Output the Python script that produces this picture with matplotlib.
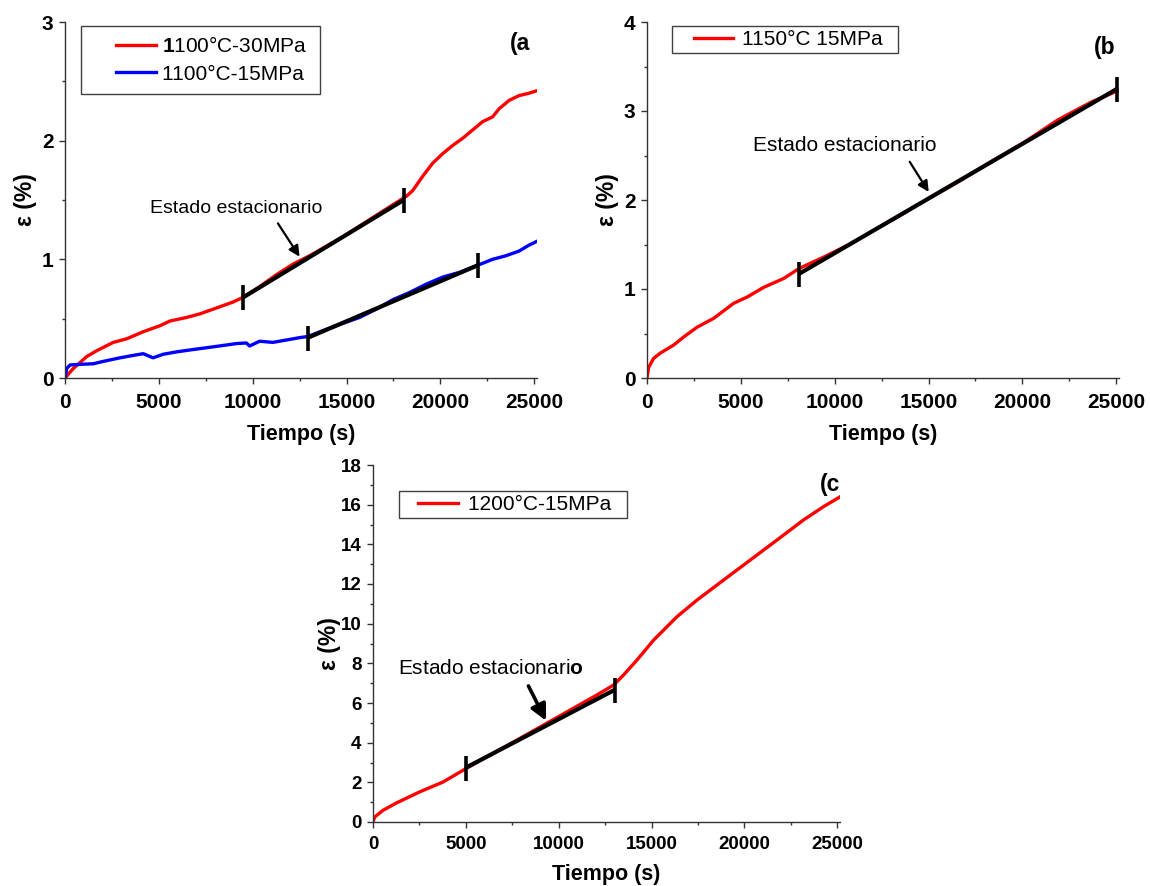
import matplotlib
matplotlib.use('Agg')
import matplotlib.pyplot as plt
from matplotlib.lines import Line2D
from matplotlib.legend_handler import HandlerLine2D
from matplotlib.ticker import MultipleLocator

plt.rcParams['font.family'] = ['Liberation Sans', 'DejaVu Sans']
plt.rcParams['mathtext.fontset'] = 'custom'
plt.rcParams['mathtext.rm'] = 'Liberation Sans'
plt.rcParams['mathtext.bf'] = 'Liberation Sans:bold'

# ---------------- data ----------------
# (a) 1100 C - 30 MPa
a30_t = [0, 440, 800, 1150, 1690, 2570, 3280, 4170, 5050, 5590, 6470, 7180, 8070, 8950, 9490,
         10370, 11260, 12150, 13030, 13920, 14800, 15690, 16580, 17470, 18180, 18530, 19060,
         19590, 20120, 20660, 21190, 21720, 22250, 22780, 23140, 23670, 24200, 24730, 25120]
a30_e = [0, 0.08, 0.13, 0.18, 0.23, 0.30, 0.33, 0.39, 0.44, 0.48, 0.51, 0.54, 0.59, 0.64, 0.68,
         0.77, 0.87, 0.96, 1.03, 1.11, 1.19, 1.28, 1.37, 1.46, 1.53, 1.58, 1.70,
         1.81, 1.89, 1.96, 2.02, 2.09, 2.16, 2.20, 2.27, 2.34, 2.38, 2.40, 2.42]
# (a) 1100 C - 15 MPa
a15_t = [0, 90, 270, 800, 1510, 2040, 2930, 3620, 4170, 4690, 5230, 5940, 6830, 7540, 8240,
         9130, 9660, 9840, 10370, 11080, 11790, 12500, 12940, 13920, 14800, 15690, 16580,
         17470, 18350, 19240, 20120, 21010, 21990, 22780, 23490, 24200, 24730, 25120]
a15_e = [0, 0.08, 0.11, 0.115, 0.12, 0.14, 0.17, 0.19, 0.205, 0.17, 0.20, 0.22, 0.24, 0.255, 0.27,
         0.29, 0.295, 0.27, 0.31, 0.30, 0.32, 0.34, 0.35, 0.41, 0.46, 0.51, 0.58,
         0.66, 0.72, 0.79, 0.85, 0.89, 0.95, 1.00, 1.03, 1.07, 1.12, 1.15]
a30_fit_t = [9500, 18050]
a30_fit_e = [0.68, 1.50]
a15_fit_t = [12950, 22000]
a15_fit_e = [0.34, 0.95]

# (b) 1150 C 15 MPa
b_t = [0, 90, 350, 710, 1420, 1950, 2660, 3550, 4620, 5340, 6230, 7300, 8100, 9430, 10680,
       12100, 13520, 14950, 16550, 18330, 20110, 21890, 23670, 25220]
b_e = [0, 0.12, 0.22, 0.28, 0.37, 0.46, 0.57, 0.67, 0.84, 0.91, 1.02, 1.12, 1.23, 1.36, 1.49,
       1.66, 1.83, 2.01, 2.20, 2.43, 2.65, 2.90, 3.10, 3.24]
b_fit_t = [8100, 25050]
b_fit_e = [1.17, 3.25]

# (c) 1200 C - 15 MPa
c_t = [0, 90, 540, 1260, 2520, 3780, 5000, 6290, 7730, 9170, 10610, 12050, 12950, 13490, 14210,
       15110, 16370, 17450, 18880, 20320, 21760, 23200, 24280, 25180]
c_e = [0, 0.25, 0.59, 0.96, 1.52, 2.02, 2.69, 3.37, 4.12, 4.88, 5.64, 6.40, 6.90, 7.41, 8.16,
       9.17, 10.35, 11.19, 12.20, 13.21, 14.22, 15.24, 15.91, 16.41]
c_fit_t = [5000, 13050]
c_fit_e = [2.74, 6.68]

RED = '#ff0000'
BLUE = '#0000ff'
SPINE = '#333333'

fig = plt.figure(figsize=(11.5, 8.86), dpi=100)
ax_a = fig.add_axes([65/1150, 1-378/886, 472/1150, 356/886])
ax_b = fig.add_axes([647/1150, 1-378/886, 472/1150, 356/886])
ax_c = fig.add_axes([373/1150, 1-822/886, 467/1150, 357/886])


def style(ax, ymax, ymaj, ymin, tsize, xpad, ylab_x, xlab_y):
    ax.set_xlim(0, 25150)
    ax.set_ylim(0, ymax)
    for s in ('top', 'right'):
        ax.spines[s].set_visible(False)
    for s in ('left', 'bottom'):
        ax.spines[s].set_color(SPINE)
        ax.spines[s].set_linewidth(1.0)
    ax.xaxis.set_major_locator(MultipleLocator(5000))
    ax.xaxis.set_minor_locator(MultipleLocator(2500))
    ax.yaxis.set_major_locator(MultipleLocator(ymaj))
    ax.yaxis.set_minor_locator(MultipleLocator(ymin))
    ax.tick_params(which='major', direction='out', length=4.3, width=1.0, color=SPINE,
                   labelsize=tsize)
    ax.tick_params(axis='x', which='major', pad=xpad)
    ax.tick_params(axis='y', which='major', pad=4.0)
    ax.tick_params(which='minor', direction='out', length=2.3, width=1.0, color=SPINE)
    for lab in ax.get_xticklabels() + ax.get_yticklabels():
        lab.set_fontweight('bold')
    ax.set_xlabel('Tiempo (s)', fontsize=15.5, fontweight='bold', va='top')
    ax.set_ylabel('ε (%)', fontsize=16.5, fontweight='bold')
    ax.xaxis.set_label_coords(0.5, xlab_y)
    ax.yaxis.set_label_coords(ylab_x, 0.5)


def fit(ax, t, e):
    ax.plot(t, e, color='k', lw=3, solid_capstyle='butt', zorder=4)
    ax.plot(t, e, ls='none', marker='|', ms=18, mew=2.6, color='k', zorder=5)


def legend(ax, anchor, xpad, hlen, tpad, bpad, lspace=0.25):
    leg = ax.legend(loc='upper left', bbox_to_anchor=anchor, borderaxespad=0,
                    fontsize=15, frameon=True, fancybox=False, framealpha=1,
                    edgecolor='#404040', handlelength=hlen, handletextpad=tpad,
                    borderpad=bpad, labelspacing=lspace,
                    handler_map={Line2D: HandlerLine2D(xpad=xpad)})
    leg.get_frame().set_linewidth(1.0)
    return leg


# ---- (a)
style(ax_a, 3, 1, 0.5, 15, 6.5, -28/472, -46/356)
ax_a.plot(a30_t, a30_e, color=RED, lw=2.4, label=r'$\mathbf{1}$100°C-30MPa ')
ax_a.plot(a15_t, a15_e, color=BLUE, lw=2.4, label='1100°C-15MPa ')
fit(ax_a, a30_fit_t, a30_fit_e)
fit(ax_a, a15_fit_t, a15_fit_e)
ax_a.annotate('', xy=(12500, 1.022), xytext=(11346, 1.303),
              arrowprops=dict(arrowstyle='-|>', color='k', lw=1.6, mutation_scale=16,
                              shrinkA=0, shrinkB=0))
ax_a.text(9100, 1.43, 'Estado estacionario', fontsize=14, ha='center', va='center')
ax_a.text(24260, 2.82, '(a', fontsize=16.5, fontweight='bold', ha='center', va='center')
legend(ax_a, (16/472, 1-4/356), 1.18, 3.1, 0.29, 0.5, lspace=0.4)

# ---- (b)
style(ax_b, 4, 1, 0.5, 15, 6.5, -28/472, -46/356)
ax_b.plot(b_t, b_e, color=RED, lw=2.4, label='1150°C 15MPa  ')
fit(ax_b, b_fit_t, b_fit_e)
ax_b.annotate('', xy=(15010, 2.09), xytext=(13997, 2.43),
              arrowprops=dict(arrowstyle='-|>', color='k', lw=1.6, mutation_scale=16,
                              shrinkA=0, shrinkB=0))
ax_b.text(10560, 2.61, 'Estado estacionario', fontsize=15, ha='center', va='center')
ax_b.text(24390, 3.71, '(b', fontsize=16.5, fontweight='bold', ha='center', va='center')
legend(ax_b, (25/472, 1-4/356), 0.85, 2.73, 0.43, 0.2)

# ---- (c)
style(ax_c, 18, 2, 1, 13.5, 5.5, -32/467, -42/357)
ax_c.plot(c_t, c_e, color=RED, lw=2.4, label='1200°C-15MPa  ')
fit(ax_c, c_fit_t, c_fit_e)
ax_c.annotate('', xy=(9320, 5.11), xytext=(8370, 6.86),
              arrowprops=dict(arrowstyle='-|>', color='k', lw=2.6, mutation_scale=24,
                              shrinkA=0, shrinkB=0))
ax_c.text(6340, 7.75, r'Estado estacionari$\mathbf{o}$', fontsize=15, ha='center', va='center')
ax_c.text(24620, 17.0, '(c', fontsize=16.5, fontweight='bold', ha='center', va='center')
legend(ax_c, (26/467, 1-26/357), 0.71, 2.63, 0.48, 0.2)

fig.savefig('out.png', dpi=100)
